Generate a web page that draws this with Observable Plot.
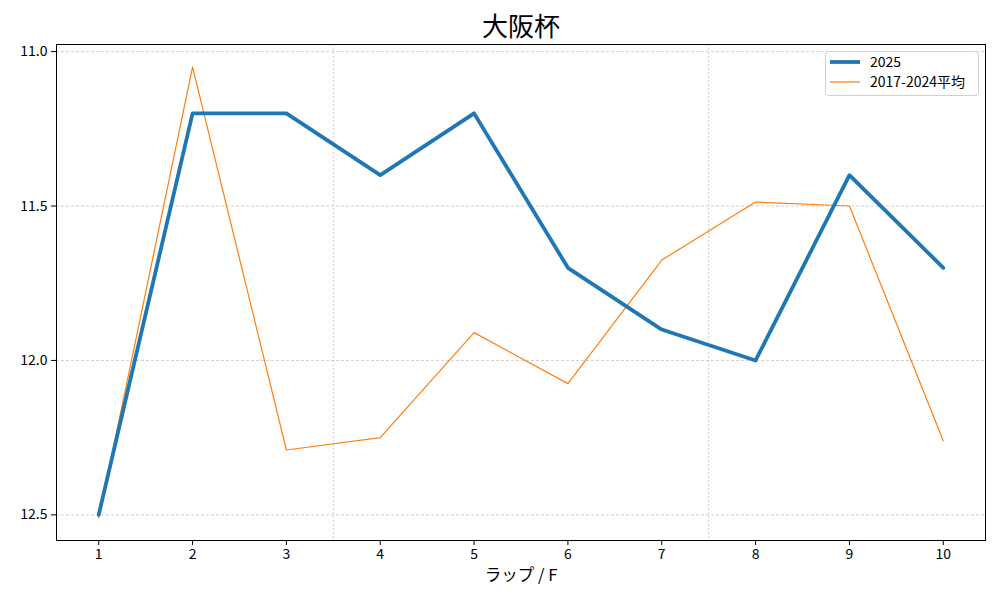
<!DOCTYPE html>
<html><head><meta charset="utf-8">
<script src="https://cdn.jsdelivr.net/npm/d3@7"></script>
<script src="https://cdn.jsdelivr.net/npm/@observablehq/plot@0.6"></script>
<style>body{margin:0;background:#fff;} svg{display:block;}</style>
</head><body><div id="chart"></div>
<script>
const title = "大阪杯";
const xLabel = "ラップ / F";
const laps = [1,2,3,4,5,6,7,8,9,10];
const series2025 = [12.5, 11.2, 11.2, 11.4, 11.2, 11.7, 11.9, 12.0, 11.4, 11.7];
const seriesAvg = [12.51, 11.05, 12.29, 12.25, 11.91, 12.075, 11.675, 11.487, 11.5, 12.26];
const seriesNames = ["2025", "2017-2024平均"];
const yTicks = [11.0, 11.5, 12.0, 12.5];
const sectionBreaks = [3.5, 7.5];

const data2025 = laps.map((l,i)=>({lap:l, t:series2025[i]}));
const dataAvg = laps.map((l,i)=>({lap:l, t:seriesAvg[i]}));
const font = "'Noto Sans CJK JP', 'DejaVu Sans', sans-serif";

const chart = Plot.plot({
  width: 1000, height: 600,
  marginTop: 44, marginBottom: 60, marginLeft: 56, marginRight: 15,
  style: {fontFamily: font, fontSize: "14px", color: "#000", background: "#fff"},
  x: {domain: [0.55, 10.45], label: null},
  y: {domain: [10.977, 12.583], reverse: true, label: null},
  marks: [
    Plot.gridY(yTicks, {stroke: "#b0b0b0", strokeOpacity: 1, strokeWidth: 0.6, strokeDasharray: "3,2"}),
    Plot.ruleX(sectionBreaks, {stroke: "#b0b0b0", strokeWidth: 0.6, strokeDasharray: "2,2"}),
    Plot.line(dataAvg, {x: "lap", y: "t", stroke: "#ff7f0e", strokeWidth: 1.2}),
    Plot.line(data2025, {x: "lap", y: "t", stroke: "#1f77b4", strokeWidth: 3.8}),
    Plot.frame({stroke: "#000", strokeWidth: 1}),
    Plot.axisY(yTicks, {tickFormat: d3.format(".1f"), tickSize: 5, tickPadding: 4, fontSize: 14, label: null}),
    Plot.axisX(laps, {tickSize: 5, tickPadding: 4, fontSize: 14, label: null}),
    Plot.text([title], {frameAnchor: "top", dy: -27, fontSize: 26, fill: "#000"}),
    Plot.text([xLabel], {frameAnchor: "bottom", dy: 40, fontSize: 16.5, fill: "#000"})
  ]
});
document.getElementById("chart").appendChild(chart);

// legend
const svg = d3.select(chart);
const lg = svg.append("g").attr("font-family", font).attr("font-size", 14).attr("text-anchor", "start");
lg.append("rect").attr("x", 825.5).attr("y", 51.5).attr("width", 153).attr("height", 44)
  .attr("rx", 3).attr("fill", "#fff").attr("fill-opacity", 0.8).attr("stroke", "#d0d0d0");
const items = [{name: seriesNames[0], color: "#1f77b4", w: 3.8}, {name: seriesNames[1], color: "#ff7f0e", w: 1.2}];
items.forEach((it, i) => {
  const y = 62 + i * 20;
  lg.append("line").attr("x1", 830).attr("x2", 860).attr("y1", y).attr("y2", y)
    .attr("stroke", it.color).attr("stroke-width", it.w);
  lg.append("text").attr("x", 870).attr("y", y).attr("dy", "0.35em").attr("text-anchor", "start").attr("fill", "#000").text(it.name);
});
</script></body></html>
